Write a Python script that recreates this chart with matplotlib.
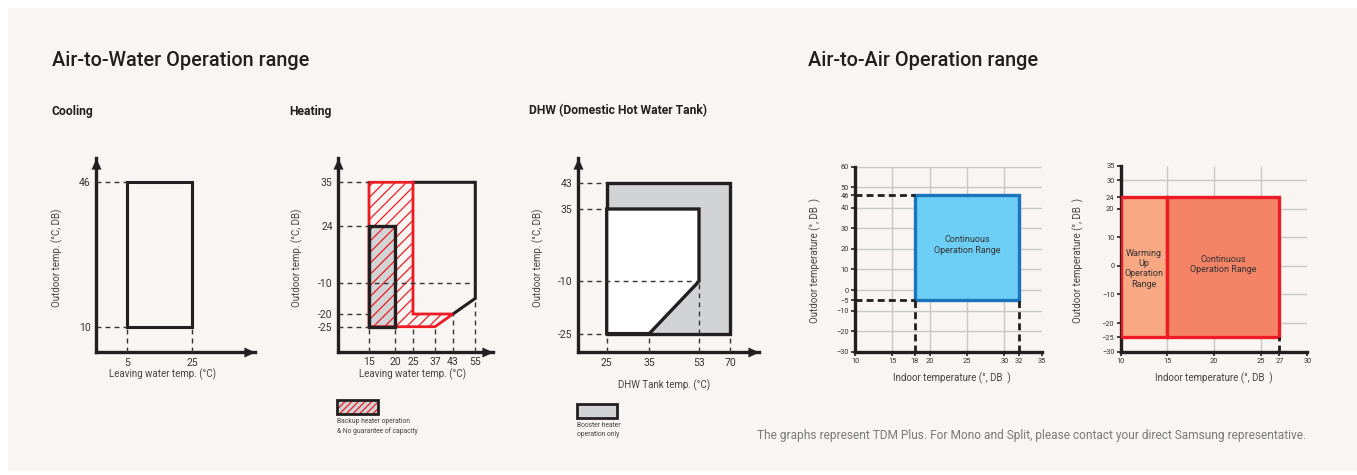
import numpy as np
import matplotlib
matplotlib.use('Agg')
import matplotlib.pyplot as plt
from matplotlib.patches import Rectangle, Polygon

plt.rcParams['font.family'] = ['Roboto', 'DejaVu Sans']
plt.rcParams['hatch.linewidth'] = 0.9

W, H, DPI = 1357, 475, 100

# ---------------- data ----------------
# Air-to-Water : Cooling
cool_x_ticks = [5, 25]
cool_y_ticks = [10, 46]
cool_range_x = [5, 25]
cool_range_y = [10, 46]

# Air-to-Water : Heating
heat_x_ticks = [15, 20, 25, 37, 43, 55]
heat_y_ticks = [-25, -20, -10, 24, 35]
heat_main_x = [25, 55, 55, 43]
heat_main_y = [35, 35, -15, -20]
heat_backup_x = [15, 25, 25, 43, 37, 15]
heat_backup_y = [35, 35, -20, -20, -25, -25]
heat_booster_x = [15, 20]
heat_booster_y = [-25, 24]

# Air-to-Water : DHW
dhw_x_ticks = [25, 35, 53, 70]
dhw_y_ticks = [-25, -10, 35, 43]
dhw_booster_x = [25, 70]
dhw_booster_y = [-25, 43]
dhw_hp_x = [25, 53, 53, 35, 25]
dhw_hp_y = [35, 35, -10, -25, -25]

# Air-to-Air : cooling
a2a_c_x_ticks = [10, 15, 18, 20, 25, 30, 32, 35]
a2a_c_y_ticks = [-30, -20, -10, -5, 0, 10, 20, 30, 40, 46, 50, 60]
a2a_c_x_grid = [15, 20, 25, 30]
a2a_c_y_grid = [-20, -10, 0, 10, 20, 30, 40, 50, 60]
a2a_c_range_x = [18, 32]
a2a_c_range_y = [-5, 46]

# Air-to-Air : heating
a2a_h_x_ticks = [10, 15, 20, 25, 27, 30]
a2a_h_y_ticks = [-30, -25, -20, -10, 0, 10, 20, 24, 30, 35]
a2a_h_x_grid = [15, 20, 25]
a2a_h_y_grid = [-20, -10, 0, 10, 20, 30]
a2a_h_warm_x = [10, 15]
a2a_h_cont_x = [15, 27]
a2a_h_range_y = [-25, 24]

# ---------------- layout (schematic tick spacing, pixels from origin) ----------------
cool_x_pos = [30.7, 96.3]
cool_y_pos = [25.3, 169.7]
heat_x_pos = [30.7, 57.0, 74.7, 96.7, 114.7, 137.0]
heat_y_pos = [25.0, 37.7, 69.0, 126.0, 169.4]
dhw_x_pos = [29.0, 71.6, 121.3, 152.3]
dhw_y_pos = [18.4, 70.7, 143.0, 169.4]

BG = '#f8f5f2'
DARK = '#231f20'
RED = '#ed1c24'
GRAY = '#d1d3d4'

fig = plt.figure(figsize=(W / DPI, H / DPI), dpi=DPI)
fig.patch.set_facecolor('white')
fig.patches.append(Rectangle((8 / W, 4 / H), 1 - 8 / W, 1 - 12 / H, transform=fig.transFigure,
                             facecolor=BG, edgecolor='none', zorder=-10))


def px(x, y):
    return x / W, 1 - y / H


def ftext(x, y, s, **kw):
    fig.text(*px(x, y), s, **kw)


def pw_scale(vals, pos):
    vals = np.asarray(vals, float)
    pos = np.asarray(pos, float)
    s_lo = (pos[1] - pos[0]) / (vals[1] - vals[0])
    s_hi = (pos[-1] - pos[-2]) / (vals[-1] - vals[-2])

    def fwd(v):
        v = np.asarray(v, float)
        out = np.interp(v, vals, pos)
        out = np.where(v < vals[0], pos[0] + (v - vals[0]) * s_lo, out)
        out = np.where(v > vals[-1], pos[-1] + (v - vals[-1]) * s_hi, out)
        return out

    def inv(p):
        p = np.asarray(p, float)
        out = np.interp(p, pos, vals)
        out = np.where(p < pos[0], vals[0] + (p - pos[0]) / s_lo, out)
        out = np.where(p > pos[-1], vals[-1] + (p - pos[-1]) / s_hi, out)
        return out

    return fwd, inv


ARROW_R = [(0, 0), (-1, 0.45), (-1, -0.45)]
ARROW_U = [(0, 0), (-0.45, -1), (0.45, -1)]


def schematic_axes(origin, tip, xv, xp, yv, yp):
    ox, oy = origin
    tx, ty = tip
    ax = fig.add_axes([ox / W, 1 - oy / H, (tx - ox) / W, (oy - ty) / H])
    ax.patch.set_alpha(0)
    fx, ix = pw_scale(xv, xp)
    fy, iy = pw_scale(yv, yp)
    ax.set_xscale('function', functions=(fx, ix))
    ax.set_yscale('function', functions=(fy, iy))
    ax.set_xlim(float(ix(0.0)), float(ix(tx - ox)))
    ax.set_ylim(float(iy(0.0)), float(iy(oy - ty)))
    ax.set_xticks(xv)
    ax.set_xticklabels([str(v) for v in xv])
    ax.set_yticks(yv)
    ax.set_yticklabels([str(v) for v in yv])
    ax.tick_params(length=0, pad=4, labelsize=7.5, labelcolor='#333333')
    for s in ('top', 'right'):
        ax.spines[s].set_visible(False)
    for s in ('left', 'bottom'):
        ax.spines[s].set_linewidth(2.4)
        ax.spines[s].set_color(DARK)
    ax.plot([1], [0], marker=ARROW_R, ms=16, mew=0, color=DARK, transform=ax.transAxes, clip_on=False)
    ax.plot([0], [1], marker=ARROW_U, ms=16, mew=0, color=DARK, transform=ax.transAxes, clip_on=False)
    return ax


def hdash(ax, y, x1, x0=None):
    if x0 is None:
        x0 = ax.get_xlim()[0]
    ax.plot([x0, x1], [y, y], color='#333333', lw=1.0, dashes=(3.5, 3), zorder=6, clip_on=False)


def vdash(ax, x, y1, y0=None):
    if y0 is None:
        y0 = ax.get_ylim()[0]
    ax.plot([x, x], [y0, y1], color='#333333', lw=1.0, dashes=(3.5, 3), zorder=6, clip_on=False)


# ---------------- titles ----------------
ftext(52, 61, 'Air-to-Water Operation range', fontsize=14.3, weight='medium', color=DARK, va='center')
ftext(808, 61, 'Air-to-Air Operation range', fontsize=14.3, weight='medium', color=DARK, va='center')
ftext(52, 111, 'Cooling', fontsize=8.7, weight='bold', color=DARK, va='center')
ftext(289, 111, 'Heating', fontsize=8.7, weight='bold', color=DARK, va='center')
ftext(529, 111, 'DHW (Domestic Hot Water Tank)', fontsize=8.7, weight='bold', color=DARK, va='center')

# ---------------- Cooling ----------------
ax = schematic_axes((96, 352), (255, 158), cool_x_ticks, cool_x_pos, cool_y_ticks, cool_y_pos)
ax.add_patch(Rectangle((cool_range_x[0], cool_range_y[0]), cool_range_x[1] - cool_range_x[0],
                       cool_range_y[1] - cool_range_y[0], facecolor='none', edgecolor=DARK, lw=2.2, zorder=4))
hdash(ax, cool_range_y[1], cool_range_x[0])
hdash(ax, cool_range_y[0], cool_range_x[0])
vdash(ax, cool_range_x[0], cool_range_y[0])
vdash(ax, cool_range_x[1], cool_range_y[0])
ftext(57, 258, 'Outdoor temp. (°C, DB)', fontsize=7, color='#444444', rotation=90, ha='center', va='center')
ftext(163, 374, 'Leaving water temp. (°C)', fontsize=7, color='#444444', ha='center', va='center')

# ---------------- Heating ----------------
ax = schematic_axes((338.3, 351.7), (493, 158), heat_x_ticks, heat_x_pos, heat_y_ticks, heat_y_pos)
ax.add_patch(Rectangle((heat_booster_x[0], heat_booster_y[0]), heat_booster_x[1] - heat_booster_x[0],
                       heat_booster_y[1] - heat_booster_y[0], facecolor=GRAY, edgecolor='none', zorder=1))
ax.add_patch(Polygon(list(zip(heat_backup_x, heat_backup_y)), closed=True, facecolor='none',
                     edgecolor=RED, lw=0, hatch='///', zorder=2))
ax.plot(heat_main_x, heat_main_y, color=DARK, lw=2.2, zorder=3, solid_joinstyle='miter')
ax.add_patch(Polygon(list(zip(heat_backup_x, heat_backup_y)), closed=True, facecolor='none',
                     edgecolor=RED, lw=2.0, zorder=4))
ax.add_patch(Rectangle((heat_booster_x[0], heat_booster_y[0]), heat_booster_x[1] - heat_booster_x[0],
                       heat_booster_y[1] - heat_booster_y[0], facecolor='none', edgecolor=DARK, lw=2.4, zorder=5))
hdash(ax, 35, 15)
hdash(ax, 24, 15)
hdash(ax, -10, 55)
hdash(ax, -20, 15)
hdash(ax, -25, 15)
vdash(ax, 15, -25)
vdash(ax, 20, -25)
vdash(ax, 25, -25)
vdash(ax, 37, -25)
vdash(ax, 43, -20)
vdash(ax, 55, -15)
ftext(297, 258, 'Outdoor temp. (°C, DB)', fontsize=7, color='#444444', rotation=90, ha='center', va='center')
ftext(413, 374, 'Leaving water temp. (°C)', fontsize=7, color='#444444', ha='center', va='center')

# legend: backup heater
fig.patches.append(Rectangle(px(337, 414), 41 / W, 14 / H, transform=fig.transFigure,
                             facecolor=GRAY, edgecolor='none', zorder=2))
fig.patches.append(Rectangle(px(337, 414), 41 / W, 14 / H, transform=fig.transFigure,
                             facecolor='none', edgecolor=RED, lw=0, hatch='/////', zorder=3))
fig.patches.append(Rectangle(px(337, 414), 41 / W, 14 / H, transform=fig.transFigure,
                             facecolor='none', edgecolor=DARK, lw=2.0, zorder=4))
ftext(337, 418, 'Backup heater operation\n& No guarantee of capacity', fontsize=4.9, color='#444444',
      va='top', linespacing=1.3)

# ---------------- DHW ----------------
ax = schematic_axes((577.7, 352), (759, 158), dhw_x_ticks, dhw_x_pos, dhw_y_ticks, dhw_y_pos)
ax.add_patch(Rectangle((dhw_booster_x[0], dhw_booster_y[0]), dhw_booster_x[1] - dhw_booster_x[0],
                       dhw_booster_y[1] - dhw_booster_y[0], facecolor=GRAY, edgecolor=DARK, lw=2.4, zorder=2))
ax.add_patch(Polygon(list(zip(dhw_hp_x, dhw_hp_y)), closed=True, facecolor='white',
                     edgecolor=DARK, lw=2.4, zorder=3))
hdash(ax, 43, 25)
hdash(ax, 35, 25)
hdash(ax, -10, 53)
hdash(ax, -25, 25)
vdash(ax, 25, -25)
vdash(ax, 35, -25)
vdash(ax, 53, -10)
vdash(ax, 70, -25)
ftext(538, 258, 'Outdoor temp. (°C, DB)', fontsize=7, color='#444444', rotation=90, ha='center', va='center')
ftext(664, 385, 'DHW Tank temp. (°C)', fontsize=7, color='#444444', ha='center', va='center')

# legend: booster heater
fig.patches.append(Rectangle(px(577, 418), 40 / W, 14 / H, transform=fig.transFigure,
                             facecolor=GRAY, edgecolor=DARK, lw=2.0, zorder=2))
ftext(577, 422, 'Booster heater\noperation only', fontsize=4.9, color='#444444', va='top', linespacing=1.3)


# ---------------- Air-to-Air ----------------
def a2a_axes(x0, y0, x1, y1, xt, yt, xg, yg, xlim, ylim):
    ax = fig.add_axes([x0 / W, 1 - y1 / H, (x1 - x0) / W, (y1 - y0) / H])
    ax.patch.set_alpha(0)
    ax.set_xlim(*xlim)
    ax.set_ylim(*ylim)
    ax.set_xticks(xt)
    ax.set_yticks(yt)
    ax.tick_params(direction='out', length=3, width=1.2, color=DARK, labelsize=5.3,
                   labelcolor='#333333', pad=1.5)
    for s in ('top', 'right'):
        ax.spines[s].set_visible(False)
    for s in ('left', 'bottom'):
        ax.spines[s].set_linewidth(2.4)
        ax.spines[s].set_color(DARK)
    ax.vlines(xg, ylim[0], ylim[1], color='#c8c8c8', lw=1.0, zorder=0)
    ax.hlines(yg, xlim[0], xlim[1], color='#c8c8c8', lw=1.0, zorder=0)
    return ax


ax = a2a_axes(855, 166.7, 1041.7, 351.7, a2a_c_x_ticks, a2a_c_y_ticks, a2a_c_x_grid, a2a_c_y_grid,
              (10, 35), (-30, 60))
ax.add_patch(Rectangle((a2a_c_range_x[0], a2a_c_range_y[0]), a2a_c_range_x[1] - a2a_c_range_x[0],
                       a2a_c_range_y[1] - a2a_c_range_y[0], facecolor='#6dcff6', edgecolor='#1c75bc',
                       lw=2.4, zorder=3))
for yv in a2a_c_range_y:
    ax.plot([10, a2a_c_range_x[0]], [yv, yv], color=DARK, lw=2.0, dashes=(2.5, 1.5), zorder=4)
for xv in a2a_c_range_x:
    ax.plot([xv, xv], [-30, a2a_c_range_y[0]], color=DARK, lw=2.0, dashes=(2.5, 1.5), zorder=4)
ax.text(np.mean(a2a_c_range_x), 22, 'Continuous\nOperation Range', fontsize=6.5, color='#333333',
        ha='center', va='center', zorder=5)
ftext(815, 260, 'Outdoor temperature (°, DB  )', fontsize=7, color='#444444', rotation=90,
      ha='center', va='center')
ftext(952, 378, 'Indoor temperature (°, DB  )', fontsize=7, color='#444444', ha='center', va='center')

ax = a2a_axes(1120.7, 165.7, 1307.3, 351.7, a2a_h_x_ticks, a2a_h_y_ticks, a2a_h_x_grid, a2a_h_y_grid,
              (10, 30), (-30, 35))
ax.add_patch(Rectangle((a2a_h_warm_x[0], a2a_h_range_y[0]), a2a_h_warm_x[1] - a2a_h_warm_x[0],
                       a2a_h_range_y[1] - a2a_h_range_y[0], facecolor='#f9a884', edgecolor=RED,
                       lw=2.4, zorder=3))
ax.add_patch(Rectangle((a2a_h_cont_x[0], a2a_h_range_y[0]), a2a_h_cont_x[1] - a2a_h_cont_x[0],
                       a2a_h_range_y[1] - a2a_h_range_y[0], facecolor='#f58466', edgecolor=RED,
                       lw=2.4, zorder=3))
ax.plot([a2a_h_cont_x[1]] * 2, [-30, a2a_h_range_y[0]], color=DARK, lw=2.0, dashes=(2.5, 1.5), zorder=4)
ax.text(np.mean(a2a_h_warm_x), -1, 'Warming\nUp\nOperation\nRange', fontsize=6.5, color='#333333',
        ha='center', va='center', zorder=5)
ax.text(np.mean(a2a_h_cont_x), 0.5, 'Continuous\nOperation Range', fontsize=6.5, color='#333333',
        ha='center', va='center', zorder=5)
ftext(1078, 260, 'Outdoor temperature (°, DB  )', fontsize=7, color='#444444', rotation=90,
      ha='center', va='center')
ftext(1214, 378, 'Indoor temperature (°, DB  )', fontsize=7, color='#444444', ha='center', va='center')

# ---------------- footnote ----------------
ftext(757, 435, 'The graphs represent TDM Plus. For Mono and Split, please contact your direct Samsung representative.',
      fontsize=8.6, color='#7a7a7a', va='center')

fig.savefig('out.png', dpi=DPI, facecolor=fig.get_facecolor())
